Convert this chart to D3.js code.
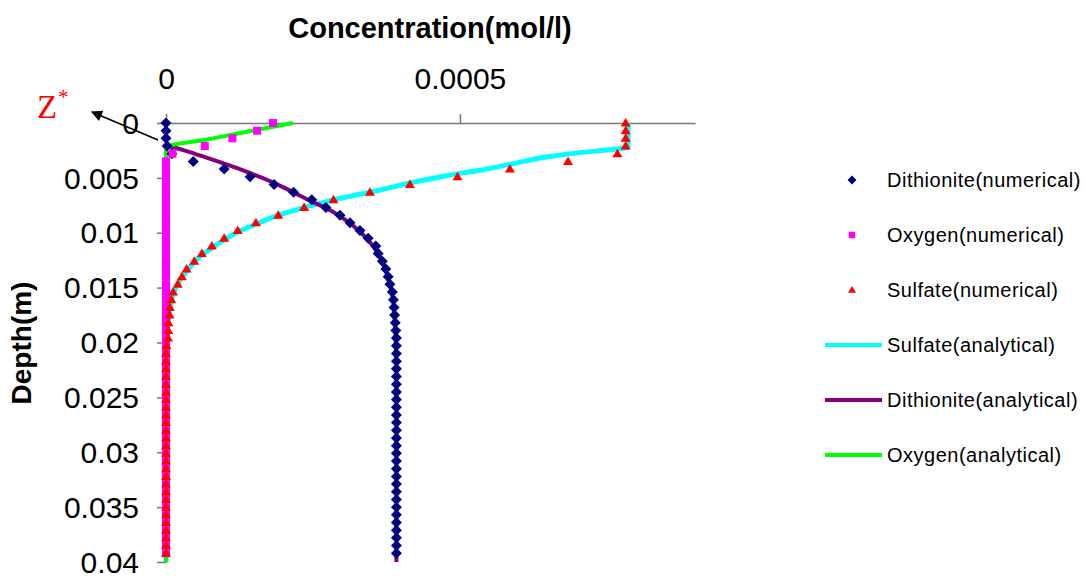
<!DOCTYPE html>
<html>
<head>
<meta charset="utf-8">
<script src="https://cdn.jsdelivr.net/npm/d3@7"></script>
<style>
  body { margin: 0; background: #fff; }
  svg { display: block; font-family: "Liberation Sans", Arial, sans-serif; }
</style>
</head>
<body>
<script>
// depth grid of the numerical solution (m)
const depthNum = [
  0, 0.0007, 0.0014, 0.0021, 0.0028, 0.0035, 0.0042, 0.0049, 0.0056, 0.0063,
  0.007, 0.0077, 0.0084, 0.0091, 0.0098, 0.0105, 0.0112, 0.0119, 0.0126, 0.0133,
  0.014, 0.0147, 0.0154, 0.0161, 0.0168, 0.0175, 0.0182, 0.0189, 0.0196, 0.0203,
  0.021, 0.0217, 0.0224, 0.0231, 0.0238, 0.0245, 0.0252, 0.0259, 0.0266, 0.0273,
  0.028, 0.0287, 0.0294, 0.0301, 0.0308, 0.0315, 0.0322, 0.0329, 0.0336, 0.0343,
  0.035, 0.0357, 0.0364, 0.0371, 0.0378, 0.0385, 0.0392
]

const dithioniteNum = [
  0, 0, 0, 0.000002, 0.00001, 0.0000464, 0.000099, 0.000143, 0.000184, 0.000217,
  0.000248, 0.000272, 0.000296, 0.000313, 0.00033, 0.000344, 0.000357, 0.000361, 0.000368, 0.000374,
  0.000378, 0.000381, 0.000385, 0.000387, 0.000388, 0.000389, 0.00039, 0.000391, 0.000392, 0.000392,
  0.000392, 0.000392, 0.000392, 0.000392, 0.000392, 0.000392, 0.000392, 0.000392, 0.000392, 0.000392,
  0.000392, 0.000392, 0.000392, 0.000392, 0.000392, 0.000392, 0.000392, 0.000392, 0.000392, 0.000392,
  0.000392, 0.000392, 0.000392, 0.000392, 0.000392, 0.000392, 0.000392
]

const oxygenNum = [
  0.000182, 0.000155, 0.000113, 0.000066, 0.000011, 0, 0, 0, 0, 0,
  0, 0, 0, 0, 0, 0, 0, 0, 0, 0,
  0, 0, 0, 0, 0, 0, 0, 0, 0, 0,
  0, 0, 0, 0, 0, 0, 0, 0, 0, 0,
  0, 0, 0, 0, 0, 0, 0, 0, 0, 0,
  0, 0, 0, 0, 0, 0, 0
]

const sulfateNum = [
  0.000782, 0.000782, 0.000782, 0.000782, 0.000768, 0.000684, 0.000585, 0.000496, 0.000415, 0.000347,
  0.000285, 0.000235, 0.000191, 0.000153, 0.000122, 0.000099, 0.000078, 0.000061, 0.000048, 0.000035,
  0.000027, 0.00002, 0.000012, 0.000009, 0.0000065, 0.000006, 0.000004, 0.0000039, 0.0000035, 0.000001,
  0, 0, 0, 0, 0, 0, 0, 0, 0, 0,
  0, 0, 0, 0, 0, 0, 0, 0, 0, 0,
  0, 0, 0, 0, 0, 0, 0
]

// analytical curves
const depthSulfateA = [0, 0.0022, 0.00246, 0.0027, 0.0031, 0.0037, 0.0043, 0.0048, 0.0054, 0.0061,
  0.007, 0.0078, 0.0084, 0.0092, 0.0099, 0.0107, 0.0114, 0.012, 0.0128, 0.0136,
  0.0143, 0.0152, 0.0161, 0.0174, 0.019, 0.021, 0.025, 0.03, 0.035, 0.04]
const sulfateA = [0.000786, 0.000786, 0.000749, 0.000704, 0.000647, 0.000591, 0.000534, 0.000477, 0.000421, 0.000364,
  0.000285, 0.000228, 0.000191, 0.000154, 0.000123, 0.000097, 0.000078, 0.000061, 0.000046, 0.000034,
  0.000024, 0.000015, 0.00001, 0.0000056, 0.0000025, 0.000001, 0.0000002, 0, 0, 0]

const depthDithioniteA = [0.0021, 0.0025, 0.003, 0.0035, 0.004, 0.0045, 0.005, 0.006, 0.007, 0.008,
  0.009, 0.01, 0.011, 0.012, 0.013, 0.014, 0.015, 0.016, 0.018, 0.02, 0.025, 0.03, 0.035, 0.04]
const dithioniteA = [0.000004, 0.000031, 0.00006, 0.000088, 0.000115, 0.00014, 0.000164, 0.000205, 0.000242, 0.000281,
  0.00031, 0.000332, 0.000349, 0.000362, 0.000371, 0.000377, 0.000382, 0.000386, 0.000389, 0.000391,
  0.000392, 0.000392, 0.000392, 0.000392]

const depthOxygenA = [0, 0.0005, 0.001, 0.0015, 0.0021, 0.0025, 0.04]
const oxygenA = [0.000216, 0.000167, 0.000118, 0.00007, 0.000006, 0, 0]

const xTicks = [0, 0.0005]
const xTickLabels = ['0', '0.0005']
const yTicks = [0, 0.005, 0.01, 0.015, 0.02, 0.025, 0.03, 0.035, 0.04]
const yTickLabels = ['0', '0.005', '0.01', '0.015', '0.02', '0.025', '0.03', '0.035', '0.04']

const legendLabels = ['Dithionite(numerical)', 'Oxygen(numerical)', 'Sulfate(numerical)',
  'Sulfate(analytical)', 'Dithionite(analytical)', 'Oxygen(analytical)']

const w = 1086
const h = 579
const font = '"Liberation Sans", Arial, sans-serif'

const svg = d3.select('body').append('svg')
    .attr('width', w)
    .attr('height', h)

const x = d3.scaleLinear().domain([0, 0.0009]).range([166, 695])
const y = d3.scaleLinear().domain([0, 0.04]).range([123, 562])

// title + axis label
svg.append('text')
    .attr('x', 430)
    .attr('y', 38)
    .attr('text-anchor', 'middle')
    .style('font', `bold 29px ${font}`)
    .text('Concentration(mol/l)')

svg.append('text')
    .attr('transform', 'translate(31, 343) rotate(-90)')
    .attr('text-anchor', 'middle')
    .style('font', `bold 28px ${font}`)
    .text('Depth(m)')

// axes
const xAxis = svg.append('g')
    .attr('transform', `translate(0, ${y(0)})`)
    .call(d3.axisTop(x)
        .tickValues(xTicks)
        .tickFormat((d, i) => xTickLabels[i])
        .tickSize(9)
        .tickSizeOuter(0)
        .tickPadding(25))

const yAxis = svg.append('g')
    .attr('transform', `translate(${x(0)}, 0)`)
    .call(d3.axisLeft(y)
        .tickValues(yTicks)
        .tickFormat((d, i) => yTickLabels[i])
        .tickSize(9)
        .tickSizeOuter(0)
        .tickPadding(18))

for (const g of [xAxis, yAxis]) {
    g.select('.domain').attr('stroke', '#777').attr('stroke-width', 1.5)
    g.selectAll('.tick line').attr('stroke', '#777').attr('stroke-width', 1.5)
    g.selectAll('.tick text')
        .attr('fill', '#000')
        .style('font', `30px ${font}`)
}
yAxis.selectAll('.tick text').attr('dy', '0.34em')

// analytical lines
const line = d3.line()
    .x(d => x(d[1]))
    .y(d => y(d[0]))
    .curve(d3.curveMonotoneY)

const zip = (a, b) => a.map((v, i) => [v, b[i]])

const plot = svg.append('g')

plot.append('path')
    .datum(zip(depthSulfateA, sulfateA))
    .attr('d', line)
    .attr('fill', 'none')
    .attr('stroke', '#00FFFF')
    .attr('stroke-width', 5)

plot.append('path')
    .datum(zip(depthDithioniteA, dithioniteA))
    .attr('d', line)
    .attr('fill', 'none')
    .attr('stroke', '#800080')
    .attr('stroke-width', 4)

plot.append('path')
    .datum(zip(depthOxygenA, oxygenA))
    .attr('d', line)
    .attr('fill', 'none')
    .attr('stroke', '#00FF00')
    .attr('stroke-width', 4)

// marker shapes
const diamond = 'M0,-5.5L5.5,0L0,5.5L-5.5,0Z'
const square = 'M-4,-4H4V4H-4Z'
const triangle = 'M0,-5L5,3.5L-5,3.5Z'

const drawMarkers = (vals, shape, color) => {
    plot.append('g').selectAll('path')
        .data(zip(depthNum, vals))
        .enter()
        .append('path')
        .attr('d', shape)
        .attr('transform', d => `translate(${x(d[1])}, ${y(d[0])})`)
        .attr('fill', color)
}

drawMarkers(dithioniteNum, diamond, '#000080')
drawMarkers(oxygenNum, square, '#FF00FF')
drawMarkers(sulfateNum, triangle, '#FF0000')

// Z* annotation with arrow
svg.append('defs').append('marker')
    .attr('id', 'arrow')
    .attr('viewBox', '0 0 10 10')
    .attr('refX', 9)
    .attr('refY', 5)
    .attr('markerWidth', 17)
    .attr('markerHeight', 11)
    .attr('markerUnits', 'userSpaceOnUse')
    .attr('orient', 'auto')
    .append('path')
    .attr('d', 'M0,0L10,5L0,10Z')
    .attr('fill', '#000')

svg.append('line')
    .attr('x1', 158).attr('y1', 140)
    .attr('x2', 92).attr('y2', 112)
    .attr('stroke', '#000')
    .attr('stroke-width', 1.6)
    .attr('marker-end', 'url(#arrow)')

svg.append('text')
    .attr('x', 37)
    .attr('y', 118)
    .attr('fill', '#FF0000')
    .style('font', '33px "Liberation Serif", "Times New Roman", serif')
    .text('Z')

svg.append('text')
    .attr('x', 58)
    .attr('y', 104)
    .attr('fill', '#FF0000')
    .style('font', '21px "Liberation Serif", "Times New Roman", serif')
    .text('*')

// legend
const legend = svg.append('g')
const rowY = i => 180 + i * 55
const legendShapes = [
    { shape: diamond, color: '#000080' },
    { shape: square, color: '#FF00FF' },
    { shape: triangle, color: '#FF0000' },
    { line: '#00FFFF', width: 4 },
    { line: '#800080', width: 4 },
    { line: '#00FF00', width: 4 }
]

legendShapes.forEach((s, i) => {
    if (s.shape) {
        legend.append('path')
            .attr('d', s.shape)
            .attr('transform', `translate(852, ${rowY(i)}) scale(0.8)`)
            .attr('fill', s.color)
    } else {
        legend.append('line')
            .attr('x1', 825).attr('x2', 882)
            .attr('y1', rowY(i)).attr('y2', rowY(i))
            .attr('stroke', s.line)
            .attr('stroke-width', s.width)
    }
    legend.append('text')
        .attr('x', 887)
        .attr('y', rowY(i))
        .attr('dy', '0.36em')
        .style('font', `20px ${font}`)
        .style('letter-spacing', '0.5px')
        .text(legendLabels[i])
})
</script>
</body>
</html>
